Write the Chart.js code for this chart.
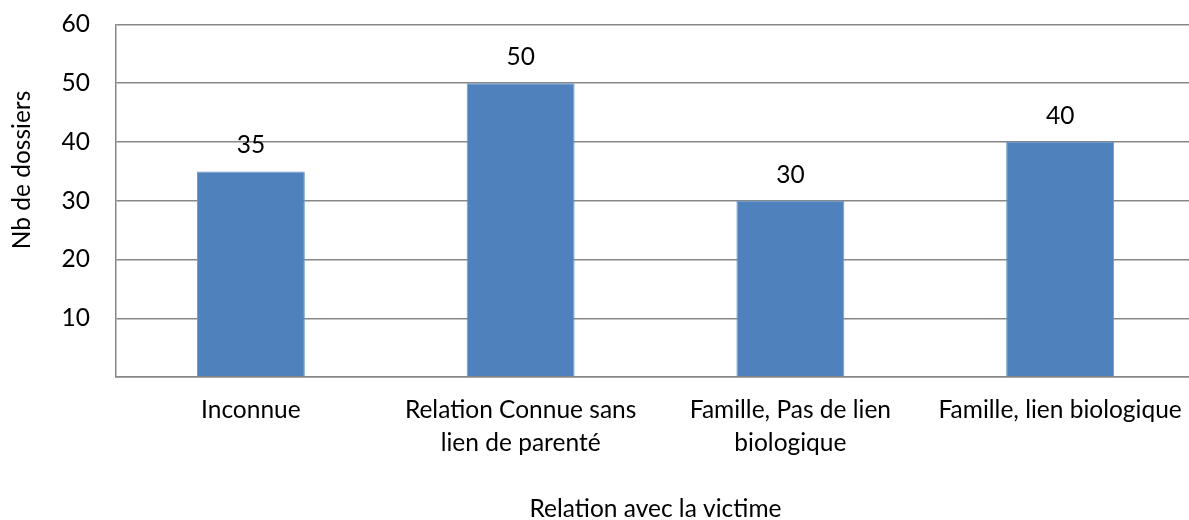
<!DOCTYPE html>
<html>
<head>
<meta charset="utf-8">
<script src="https://cdn.jsdelivr.net/npm/chart.js@4/dist/chart.umd.min.js"></script>
<style>
  html, body { margin: 0; padding: 0; background: #fff; overflow: hidden; }
  #wrap { width: 1200px; height: 520px; }
</style>
</head>
<body>
<div id="wrap"><canvas id="c" width="1200" height="520"></canvas></div>
<script>
const categories = [
  "Inconnue",
  ["Relation Connue sans", "lien de parenté"],
  ["Famille, Pas de lien", "biologique"],
  "Famille, lien biologique"
];
const values = [35, 50, 30, 40];
const yTicks = [10, 20, 30, 40, 50, 60];
const xTitle = "Relation avec la victime";
const yTitle = "Nb de dossiers";

const FONT = "Lato, 'Open Sans', sans-serif";
const FS = 24.5;
const GRID = "#878787";

const labelPlugin = {
  id: "barLabels",
  afterDatasetsDraw(chart) {
    const ctx = chart.ctx;
    const meta = chart.getDatasetMeta(0);
    ctx.save();
    ctx.font = FS + "px " + FONT;
    ctx.fillStyle = "#000";
    ctx.textAlign = "center";
    ctx.textBaseline = "middle";
    meta.data.forEach((bar, i) => {
      ctx.fillText(String(values[i]), bar.x, bar.y - 26);
    });
    // y axis title (offset upward as in the reference)
    ctx.translate(22.5, 170);
    ctx.rotate(-Math.PI / 2);
    ctx.fillText(yTitle, 0, 0);
    ctx.restore();
  }
};

new Chart(document.getElementById("c"), {
  type: "bar",
  data: {
    labels: categories,
    datasets: [{
      data: values,
      backgroundColor: "#4F81BD",
      borderColor: "#6F99CC",
      borderWidth: 1,
      barPercentage: 0.5,
      categoryPercentage: 0.8
    }]
  },
  options: {
    responsive: false,
    animation: false,
    layout: { padding: { top: 24.5, right: 5, left: 0, bottom: 0 } },
    plugins: { legend: { display: false }, tooltip: { enabled: false } },
    scales: {
      x: {
        grid: { display: false, drawTicks: false },
        border: { display: true, color: GRID, width: 1.5 },
        ticks: {
          color: "#000",
          font: { family: FONT, size: FS, lineHeight: 33 / FS },
          padding: 17,
          maxRotation: 0,
          minRotation: 0,
          autoSkip: false
        },
        title: {
          display: true,
          text: xTitle,
          color: "#000",
          font: { family: FONT, size: FS, lineHeight: 0.9 },
          padding: { top: 0, bottom: 0 }
        },
        afterFit(scale) { scale.height = 143; scale.paddingTop = 0; scale.paddingBottom = 0; }
      },
      y: {
        min: 0,
        max: 60,
        afterBuildTicks(scale) { scale.ticks = [0].concat(yTicks).map(v => ({ value: v })); },
        grid: { color: GRID, lineWidth: 1.5, drawTicks: false },
        border: { display: true, color: GRID, width: 1.5 },
        ticks: {
          color: "#000",
          font: { family: FONT, size: FS },
          padding: 26,
          callback: (v) => (v === 0 ? "" : String(v))
        },
        afterFit(scale) { scale.width = 116; scale.paddingTop = 0; scale.paddingBottom = 0; }
      }
    }
  },
  plugins: [labelPlugin]
});
</script>
</body>
</html>
